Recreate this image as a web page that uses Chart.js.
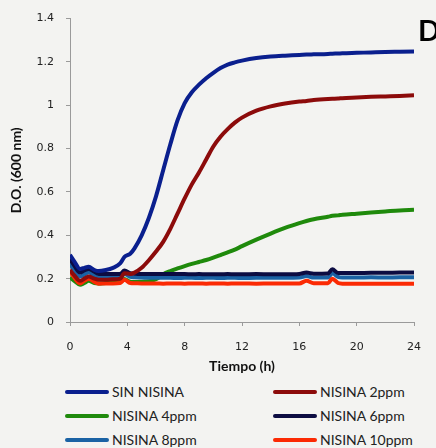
<!DOCTYPE html>
<html>
<head>
<meta charset="utf-8">
<script src="https://cdn.jsdelivr.net/npm/chart.js@4"></script>
<style>
  body { margin: 0; background: #f3f3f1; }
  #wrap { position: relative; width: 436px; height: 448px; background: #f3f3f1; overflow: hidden; }
  #chart { position: absolute; left: 0; top: 0; }
  #panel { position: absolute; left: 418px; top: 12px; font: bold 29px Lato, sans-serif; color: #000; }
  .item { position: absolute; height: 20px; font: 14px Lato, sans-serif; color: #222; white-space: nowrap; }
  .item span.line { position: absolute; left: 0; top: 8px; width: 44px; height: 4px; border-radius: 2px; }
  .item span.txt { position: absolute; left: 47px; top: 1px; }
</style>
</head>
<body>
<div id="wrap">
  <canvas id="chart" width="436" height="380"></canvas>
  <div id="panel">D</div>
  <div id="legend"></div>
</div>
<script>
// tiempo (h)
const hours = [0, 0.3, 0.7, 1, 1.3, 1.7, 2, 2.5, 3, 3.5,
  3.8, 4.2, 4.5, 5, 5.5, 6, 6.5, 7, 7.5, 8,
  8.5, 9, 9.5, 10, 10.5, 11, 11.5, 12, 13, 14,
  15, 16, 16.5, 17, 18, 18.3, 18.7, 19, 20, 21,
  22, 23, 24];

const sinNisina = [0.31, 0.28, 0.245, 0.25, 0.255, 0.24, 0.235, 0.24, 0.25, 0.27,
  0.30, 0.315, 0.34, 0.40, 0.48, 0.58, 0.70, 0.82, 0.93, 1.01,
  1.06, 1.095, 1.125, 1.15, 1.172, 1.188, 1.198, 1.206, 1.218, 1.225,
  1.229, 1.232, 1.234, 1.235, 1.237, 1.238, 1.239, 1.24, 1.242, 1.244,
  1.246, 1.247, 1.248];

const nisina2 = [0.24, 0.215, 0.19, 0.2, 0.21, 0.2, 0.195, 0.195, 0.197, 0.2,
  0.225, 0.222, 0.228, 0.25, 0.285, 0.325, 0.37, 0.43, 0.5, 0.57,
  0.635, 0.69, 0.75, 0.81, 0.855, 0.89, 0.92, 0.943, 0.975, 0.995,
  1.008, 1.017, 1.02, 1.024, 1.029, 1.03, 1.031, 1.033, 1.036, 1.039,
  1.041, 1.043, 1.046];

const nisina4 = [0.205, 0.19, 0.172, 0.18, 0.19, 0.18, 0.178, 0.18, 0.182, 0.185,
  0.198, 0.186, 0.185, 0.186, 0.188, 0.197, 0.22, 0.235, 0.247, 0.258,
  0.268, 0.277, 0.286, 0.297, 0.309, 0.321, 0.334, 0.35, 0.38, 0.408,
  0.434, 0.456, 0.466, 0.474, 0.486, 0.49, 0.492, 0.495, 0.5, 0.505,
  0.51, 0.515, 0.518];

const nisina6 = [0.29, 0.26, 0.228, 0.238, 0.245, 0.232, 0.222, 0.222, 0.222, 0.222,
  0.238, 0.225, 0.223, 0.222, 0.222, 0.222, 0.221, 0.221, 0.221, 0.221,
  0.22, 0.221, 0.22, 0.22, 0.22, 0.221, 0.22, 0.22, 0.221, 0.22,
  0.22, 0.222, 0.228, 0.223, 0.224, 0.243, 0.226, 0.226, 0.226, 0.227,
  0.227, 0.228, 0.228];

const nisina8 = [0.27, 0.24, 0.21, 0.22, 0.228, 0.215, 0.205, 0.205, 0.205, 0.206,
  0.222, 0.208, 0.206, 0.205, 0.204, 0.204, 0.204, 0.204, 0.203, 0.204,
  0.204, 0.203, 0.204, 0.204, 0.203, 0.204, 0.204, 0.203, 0.204, 0.204,
  0.204, 0.205, 0.212, 0.205, 0.205, 0.225, 0.208, 0.205, 0.205, 0.206,
  0.205, 0.206, 0.206];

const nisina10 = [0.235, 0.205, 0.178, 0.19, 0.2, 0.185, 0.177, 0.178, 0.178, 0.18,
  0.195, 0.18, 0.179, 0.178, 0.178, 0.178, 0.177, 0.178, 0.178, 0.177,
  0.178, 0.178, 0.177, 0.178, 0.178, 0.177, 0.178, 0.178, 0.177, 0.178,
  0.178, 0.178, 0.19, 0.179, 0.179, 0.2, 0.18, 0.177, 0.177, 0.176,
  0.177, 0.176, 0.177];

const names = ["SIN NISINA", "NISINA 2ppm", "NISINA 4ppm", "NISINA 6ppm", "NISINA 8ppm", "NISINA 10ppm"];
const series = [sinNisina, nisina2, nisina4, nisina6, nisina8, nisina10];
const colors = ["#0a1f8e", "#8c0b0b", "#1f8a0c", "#0c0c42", "#1a62a4", "#fb2a04"];
const drawOrder = [0, 1, 3, 2, 2, 1]; // 10ppm por encima del verde

const xTicks = [0, 4, 8, 12, 16, 20, 24];

const datasets = names.map((n, i) => ({
  label: n,
  data: hours.map((h, j) => ({ x: h, y: series[i][j] })),
  borderColor: colors[i],
  backgroundColor: colors[i],
  borderWidth: 4,
  pointRadius: 0,
  cubicInterpolationMode: "monotone",
  fill: false,
  order: drawOrder[i]
}));

const tickFont = { family: "DejaVu Sans", size: 11 };
const titleFont = { family: "Lato", size: 14, weight: "bold" };

new Chart("chart", {
  type: "line",
  data: { datasets: datasets },
  options: {
    responsive: false,
    animation: false,
    layout: { padding: { top: 15, right: 21, left: 0, bottom: 0 } },
    plugins: { legend: { display: false }, tooltip: { enabled: false } },
    scales: {
      x: {
        type: "linear",
        min: 0,
        max: 24,
        afterFit: s => { s.height = 58; },
        afterBuildTicks: s => { s.ticks = xTicks.map(v => ({ value: v })); },
        border: { color: "#9a9a9a", width: 1 },
        grid: { drawOnChartArea: false, drawTicks: true, tickLength: 4, color: "#9a9a9a" },
        ticks: { font: tickFont, color: "#222", padding: 15, maxRotation: 0 },
        title: { display: true, text: "Tiempo (h)", font: titleFont, color: "#111", padding: { top: 5, bottom: 5 } }
      },
      y: {
        min: 0,
        max: 1.4,
        afterFit: s => { s.width = 70; },
        border: { color: "#9a9a9a", width: 1 },
        grid: { drawOnChartArea: false, drawTicks: true, tickLength: 4, color: "#9a9a9a" },
        ticks: { stepSize: 0.2, font: tickFont, color: "#222", padding: 12, callback: v => String(+v.toFixed(1)) },
        title: { display: true, text: "D.O. (600 nm)", font: titleFont, color: "#111", padding: { top: 8, bottom: 0 } }
      }
    }
  }
});

// leyenda en dos columnas
const legend = document.getElementById("legend");
const colX = [65, 273];
const rowY = [382, 406, 430];
names.forEach((n, i) => {
  const d = document.createElement("div");
  d.className = "item";
  d.style.left = colX[i % 2] + "px";
  d.style.top = rowY[Math.floor(i / 2)] + "px";
  d.innerHTML = '<span class="line" style="background:' + colors[i] + '"></span><span class="txt">' + n + '</span>';
  legend.appendChild(d);
});
</script>
</body>
</html>
